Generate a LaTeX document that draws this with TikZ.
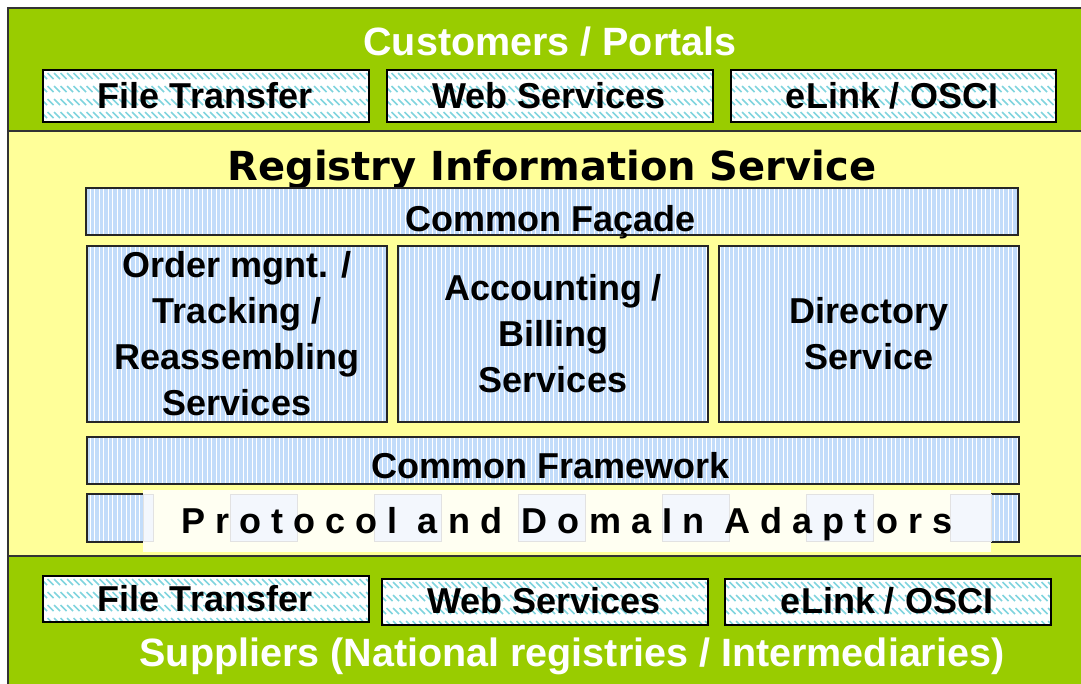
\documentclass[tikz,border=0pt]{standalone}
\usepackage{fontspec}
\setmainfont{Liberation Sans}
\newfontfamily\headfont{DejaVu Sans}
\usetikzlibrary{patterns.meta}
\definecolor{grn}{HTML}{99CC00}
\definecolor{ylw}{HTML}{FFFF99}
\definecolor{lblue}{HTML}{C2DCFA}
\definecolor{hatchc}{HTML}{80D4DE}
\definecolor{ivoryc}{HTML}{FFFFF2}
\definecolor{faintb}{HTML}{F3F7FD}
\definecolor{faintl}{HTML}{E2E2E2}
\tikzset{
 band/.style={draw=black!80, line width=2pt},
 hatchbox/.style={draw=black, line width=2.2pt, fill=white,
   path picture={
       \foreach \r in {0,...,3} {
         \foreach \c in {0,...,51} {
           \draw[hatchc, line width=1.5pt] (path picture bounding box.north west) ++(\c*6.5-2, \r*13+3) -- ++(6,6);
         }
       }},
   inner sep=0pt, anchor=north west},
 stripebox/.style={draw=black!85, line width=2pt, preaction={fill=lblue},
   pattern={Lines[angle=90,distance=4.5pt,line width=0.9pt]}, pattern color=white,
   inner sep=0pt, anchor=north west},
 lbl/.style={font=\bfseries\fontsize{36}{46}\selectfont, text=black, align=center},
 blbl/.style={font=\bfseries\fontsize{36}{46}\selectfont, text=black, anchor=base, inner sep=0pt},
 ttl/.style={font=\bfseries\fontsize{39.5}{46}\selectfont, text=white, inner sep=0pt, anchor=base},
 faint/.style={fill=faintb, draw=faintl, line width=1pt},
}
\begin{document}
\begin{tikzpicture}[x=1pt,y=-1pt]
\useasboundingbox (0,0) rectangle (1081,683);
\clip (0,0) rectangle (1081,683);
% bands
\path[band, fill=grn] (8,8) rectangle (1100,131);
\path[band, fill=ylw] (8,131) rectangle (1100,556);
\path[band, fill=grn] (8,556) rectangle (1100,700);
% top
\node[ttl] (cust) at (550,55) {Customers / Portals};
\node[hatchbox, minimum width=326pt, minimum height=52pt] (tft) at (42,69) {};
\node[hatchbox, minimum width=326pt, minimum height=52pt] (tws) at (386,69) {};
\node[hatchbox, minimum width=325pt, minimum height=52pt] (tel) at (730,69) {};
\node[blbl] (tftl) at (205,108) {File Transfer};
\node[blbl] (twsl) at (549,108) {Web Services};
\node[blbl] (tell) at (892,108) {eLink / OSCI};
% registry
\node[font=\headfont\bfseries\fontsize{40}{46}\selectfont, inner sep=0pt, anchor=base] (ris) at (552,180) {Registry Information Service};
\node[stripebox, minimum width=932pt, minimum height=47pt] (fac) at (86,188) {};
\node[blbl] (facl) at (551,231) {Common Façade};
\node[stripebox, lbl, minimum width=300pt, minimum height=176pt] (ord) at (86,245) {Order mgnt. /\\Tracking /\\Reassembling\\Services};
\node[stripebox, lbl, minimum width=310pt, minimum height=176pt] (acc) at (397,245) {Accounting /\\Billing\\Services};
\node[stripebox, lbl, minimum width=300pt, minimum height=176pt] (dir) at (718,245) {Directory\\Service};
\node[stripebox, minimum width=932pt, minimum height=47pt] (fw) at (86,436) {};
\node[blbl] (fwl) at (551,478) {Common Framework};
\node[stripebox, minimum width=932pt, minimum height=48pt] (pad) at (86,493) {};
% pale overlay of the adaptor row
\fill[ivoryc] (143,490) rectangle (991,552);
\path[faint] (143,494) rectangle (153,541);
\foreach \k in {1,...,5} {
  \path[faint] (86+144*\k,494) rectangle (153+144*\k,541);
}
\path[faint] (950,494) rectangle (991,541);
\node[blbl] (padt) at (567,533) {P\ r\ o\ t\ o\ c\ o\ l\ \ a\ n\ d\ \ D\ o\ m\ a\ I\ n\ \ A\ d\ a\ p\ t\ o\ r\ s};
% bottom
\node[hatchbox, minimum width=326pt, minimum height=46pt] (bft) at (42,575) {};
\node[hatchbox, minimum width=326pt, minimum height=46pt] (bws) at (381,578) {};
\node[hatchbox, minimum width=326pt, minimum height=46pt] (bel) at (724,578) {};
\node[blbl] (bftl) at (205,611) {File Transfer};
\node[blbl] (bwsl) at (544,613) {Web Services};
\node[blbl] (bell) at (887,613) {eLink / OSCI};
\node[ttl] (supp) at (572,666) {Suppliers (National registries / Intermediaries)};
\end{tikzpicture}
\end{document}
